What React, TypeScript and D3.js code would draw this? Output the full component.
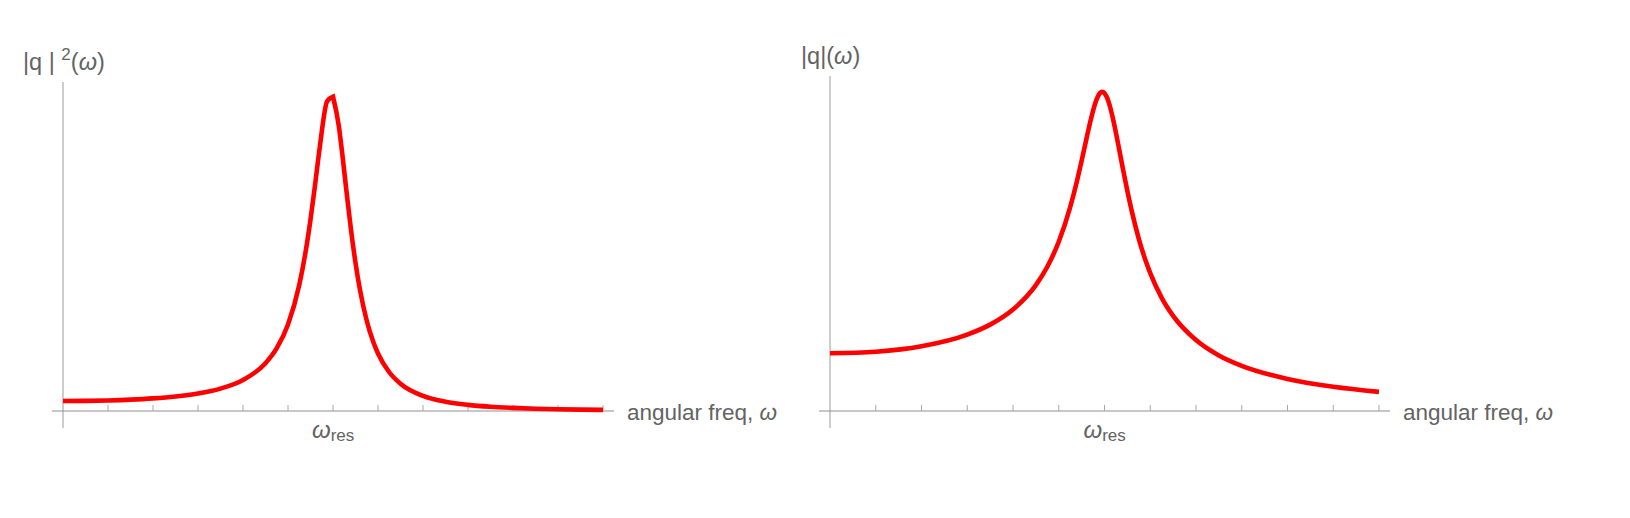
import React, { useEffect, useRef } from "react";
import * as d3 from "d3";

// angular frequency, in tick units (resonance at tick 6)
const leftOmega = [0, 0.5, 1, 1.5, 2, 2.5, 3, 3.5, 4, 4.5, 4.75, 5, 5.25, 5.4, 5.5, 5.6, 5.7, 5.87, 6.0, 6.13, 6.2, 6.3, 6.4, 6.5, 6.6, 6.75, 6.9, 7, 7.25, 7.5, 8, 8.5, 9, 9.5, 10, 10.5, 11, 11.5, 12];
// |q|^2, relative to value at omega = 0
const leftPower = [1.0, 1.014, 1.057, 1.135, 1.26, 1.453, 1.753, 2.242, 3.098, 4.777, 6.279, 8.66, 12.61, 16.16, 19.14, 22.56, 26.17, 30.98, 31.44, 28.48, 25.94, 21.94, 18.13, 14.82, 12.11, 9.025, 6.846, 5.757, 3.875, 2.731, 1.512, 0.928, 0.612, 0.425, 0.308, 0.23, 0.176, 0.138, 0.11];

const rightOmega = [0, 1, 2, 3, 3.5, 4, 4.5, 4.75, 5, 5.25, 5.4, 5.5, 5.6, 5.7, 5.8, 5.9, 5.95, 6.0, 6.05, 6.1, 6.2, 6.3, 6.4, 6.5, 6.6, 6.75, 6.9, 7, 7.25, 7.5, 8, 8.5, 9, 10, 11, 12];
// |q|, relative to value at omega = 0
const rightAmp = [1.0, 1.028, 1.122, 1.324, 1.497, 1.759, 2.182, 2.5, 2.933, 3.532, 3.991, 4.336, 4.698, 5.048, 5.339, 5.509, 5.533, 5.509, 5.441, 5.332, 5.015, 4.621, 4.208, 3.812, 3.451, 2.985, 2.603, 2.389, 1.962, 1.649, 1.229, 0.962, 0.782, 0.555, 0.42, 0.331];

const tickValues = d3.range(0, 13);
const xLabel = "angular freq, ";

const GRAY = "#636363";
const FONT = "'Liberation Sans', Arial, sans-serif";

type PanelCfg = {
  omega: number[];
  values: number[];
  x0: number;
  x1: number;
  yTop: number;
  yMax: number;
  pointedPeak: boolean;
  title: "power" | "amp";
};

function drawPanel(svg: d3.Selection<SVGSVGElement, unknown, null, undefined>, cfg: PanelCfg) {
  const axisY = 411;
  const x = d3.scaleLinear().domain([0, 12]).range([cfg.x0, cfg.x1]);
  const y = d3.scaleLinear().domain([0, cfg.yMax]).range([axisY, cfg.yTop]);
  const g = svg.append("g");

  // y axis
  g.append("line")
    .attr("x1", x(0)).attr("x2", x(0))
    .attr("y1", cfg.yTop).attr("y2", axisY + 17)
    .attr("stroke", "#bdbdbd").attr("stroke-width", 1.5);

  // x axis
  g.append("line")
    .attr("x1", x(0) - 11).attr("x2", x(12) + 11)
    .attr("y1", axisY).attr("y2", axisY)
    .attr("stroke", "#8f8f8f").attr("stroke-width", 1);

  g.selectAll("line.tick")
    .data(tickValues.slice(1))
    .enter()
    .append("line")
    .attr("class", "tick")
    .attr("x1", (d) => x(d)).attr("x2", (d) => x(d))
    .attr("y1", axisY - 6).attr("y2", axisY)
    .attr("stroke", "#a8a8a8").attr("stroke-width", 1);

  // curve
  const pts = cfg.omega.map((w, i) => [w, cfg.values[i]] as [number, number]);
  const line = d3
    .line<[number, number]>()
    .x((d) => x(d[0]))
    .y((d) => y(d[1]))
    .curve(d3.curveMonotoneX);
  let d: string;
  if (cfg.pointedPeak) {
    const peak = d3.maxIndex(pts, (p) => p[1]);
    const a = line(pts.slice(0, peak + 1)) as string;
    const b = line(pts.slice(peak)) as string;
    d = a + "L" + b.slice(1);
  } else {
    d = line(pts) as string;
  }
  g.append("path")
    .attr("fill", "none")
    .attr("stroke", "#ff0000")
    .attr("stroke-width", 4.6)
    .attr("stroke-linejoin", "miter")
    .attr("d", d);

  // x label
  const xl = g.append("text")
    .attr("x", x(12) + 24).attr("y", axisY + 9)
    .attr("fill", GRAY).attr("font-family", FONT).attr("font-size", 22.5);
  xl.append("tspan").text(xLabel);
  xl.append("tspan").attr("font-style", "italic").text("ω");

  // omega_res label
  const rl = g.append("text")
    .attr("x", x(6) - 21).attr("y", axisY + 27)
    .attr("fill", GRAY).attr("font-family", FONT).attr("font-size", 24);
  rl.append("tspan").attr("font-style", "italic").text("ω");
  rl.append("tspan").attr("font-size", 17).attr("dy", 3).text("res");

  // title
  const tl = g.append("text")
    .attr("x", x(0) - (cfg.title === "power" ? 40 : 29))
    .attr("y", cfg.title === "power" ? 70 : 64)
    .attr("fill", GRAY).attr("font-family", FONT).attr("font-size", 23.5);
  if (cfg.title === "power") {
    tl.append("tspan").text("|q | ");
    tl.append("tspan").attr("font-size", 17).attr("dy", -10).text("2");
    tl.append("tspan").attr("dy", 10).text("(");
    tl.append("tspan").attr("font-style", "italic").text("ω");
    tl.append("tspan").text(")");
  } else {
    tl.append("tspan").text("|q|(");
    tl.append("tspan").attr("font-style", "italic").text("ω");
    tl.append("tspan").text(")");
  }
}

export default function App() {
  const svgRef = useRef<SVGSVGElement>(null);

  useEffect(() => {
    const svg = d3.select(svgRef.current as SVGSVGElement);
    svg.selectAll("*").remove();
    drawPanel(svg, {
      omega: leftOmega, values: leftPower,
      x0: 63, x1: 603, yTop: 82, yMax: 32.9, pointedPeak: true, title: "power",
    });
    drawPanel(svg, {
      omega: rightOmega, values: rightAmp,
      x0: 830, x1: 1379, yTop: 76, yMax: 5.806, pointedPeak: false, title: "amp",
    });
  }, []);

  return (
    <svg
      ref={svgRef}
      width={1630}
      height={518}
      style={{ position: "absolute", left: 0, top: 0, background: "#fff" }}
    />
  );
}
